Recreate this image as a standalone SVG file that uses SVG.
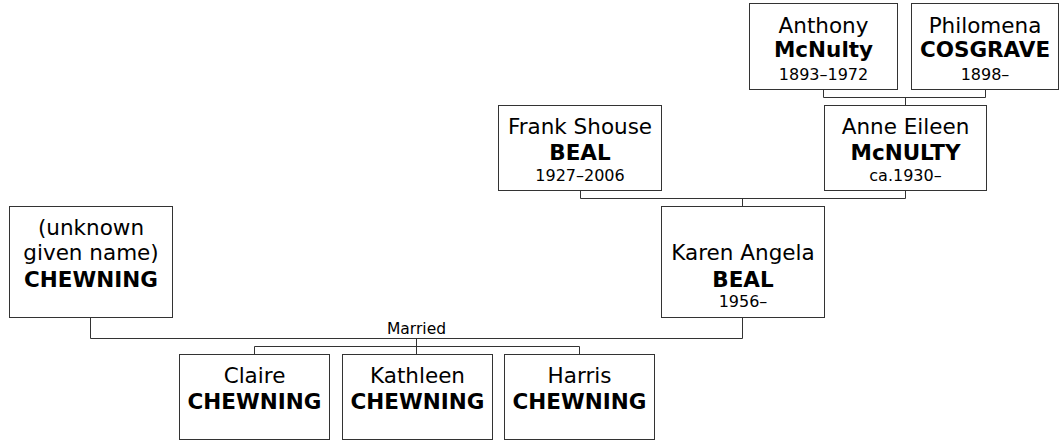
<svg xmlns="http://www.w3.org/2000/svg" width="1062" height="440" viewBox="0 0 1062 440">
<style>
.box{fill:#fff;stroke:#333;stroke-width:1}
.ln{fill:none;stroke:#333;stroke-width:1}
text{font-family:"DejaVu Sans",Verdana,sans-serif;fill:#000;text-anchor:middle}
.n{font-size:21.5px}
.s{font-size:21.5px;font-weight:bold}
.d{font-size:16px}
.m{font-size:15.5px}
</style>
<rect width="1062" height="440" fill="#fff"/>
<g id="connectors">
<path class="ln" d="M823.5 89 V97.5 H985.5 V89 M905.5 97.5 V105"/>
<path class="ln" d="M580.5 191 V198.5 H905.5 V191 M742.5 198.5 V207"/>
<path class="ln" d="M90.5 318 V338.5 H742.5 V318 M416.5 338.5 V346.5 M254.5 354 V346.5 H579.5 V354 M416.5 346.5 V354"/>
<text class="m" x="416.5" y="334">Married</text>
</g>
<g id="anthony">
<rect class="box" x="749.5" y="3.5" width="148" height="86"/>
<text class="n" x="823.5" y="33">Anthony</text>
<text class="s" x="823.5" y="57">McNulty</text>
<text class="d" x="823.5" y="80">1893–1972</text>
</g>
<g id="philomena">
<rect class="box" x="911.5" y="3.5" width="147" height="86"/>
<text class="n" x="985" y="33">Philomena</text>
<text class="s" x="985" y="57">COSGRAVE</text>
<text class="d" x="985" y="80">1898–</text>
</g>
<g id="frank">
<rect class="box" x="498.5" y="105.5" width="163" height="85"/>
<text class="n" x="580" y="134">Frank Shouse</text>
<text class="s" x="580" y="160">BEAL</text>
<text class="d" x="580" y="181">1927–2006</text>
</g>
<g id="anne">
<rect class="box" x="824.5" y="105.5" width="162" height="85"/>
<text class="n" x="905.5" y="134">Anne Eileen</text>
<text class="s" x="905.5" y="160">McNULTY</text>
<text class="d" x="905.5" y="181">ca.1930–</text>
</g>
<g id="unknown">
<rect class="box" x="9.5" y="206.5" width="163" height="111"/>
<text class="n" x="91" y="235">(unknown</text>
<text class="n" x="91" y="260">given name)</text>
<text class="s" x="91" y="287">CHEWNING</text>
</g>
<g id="karen">
<rect class="box" x="661.5" y="206.5" width="163" height="111"/>
<text class="n" x="743" y="260">Karen Angela</text>
<text class="s" x="743" y="287">BEAL</text>
<text class="d" x="743" y="307">1956–</text>
</g>
<g id="claire">
<rect class="box" x="179.5" y="354.5" width="150" height="85"/>
<text class="n" x="254.5" y="383">Claire</text>
<text class="s" x="254.5" y="409">CHEWNING</text>
</g>
<g id="kathleen">
<rect class="box" x="342.5" y="354.5" width="150" height="85"/>
<text class="n" x="417.5" y="383">Kathleen</text>
<text class="s" x="417.5" y="409">CHEWNING</text>
</g>
<g id="harris">
<rect class="box" x="504.5" y="354.5" width="150" height="85"/>
<text class="n" x="579.5" y="383">Harris</text>
<text class="s" x="579.5" y="409">CHEWNING</text>
</g>
</svg>
